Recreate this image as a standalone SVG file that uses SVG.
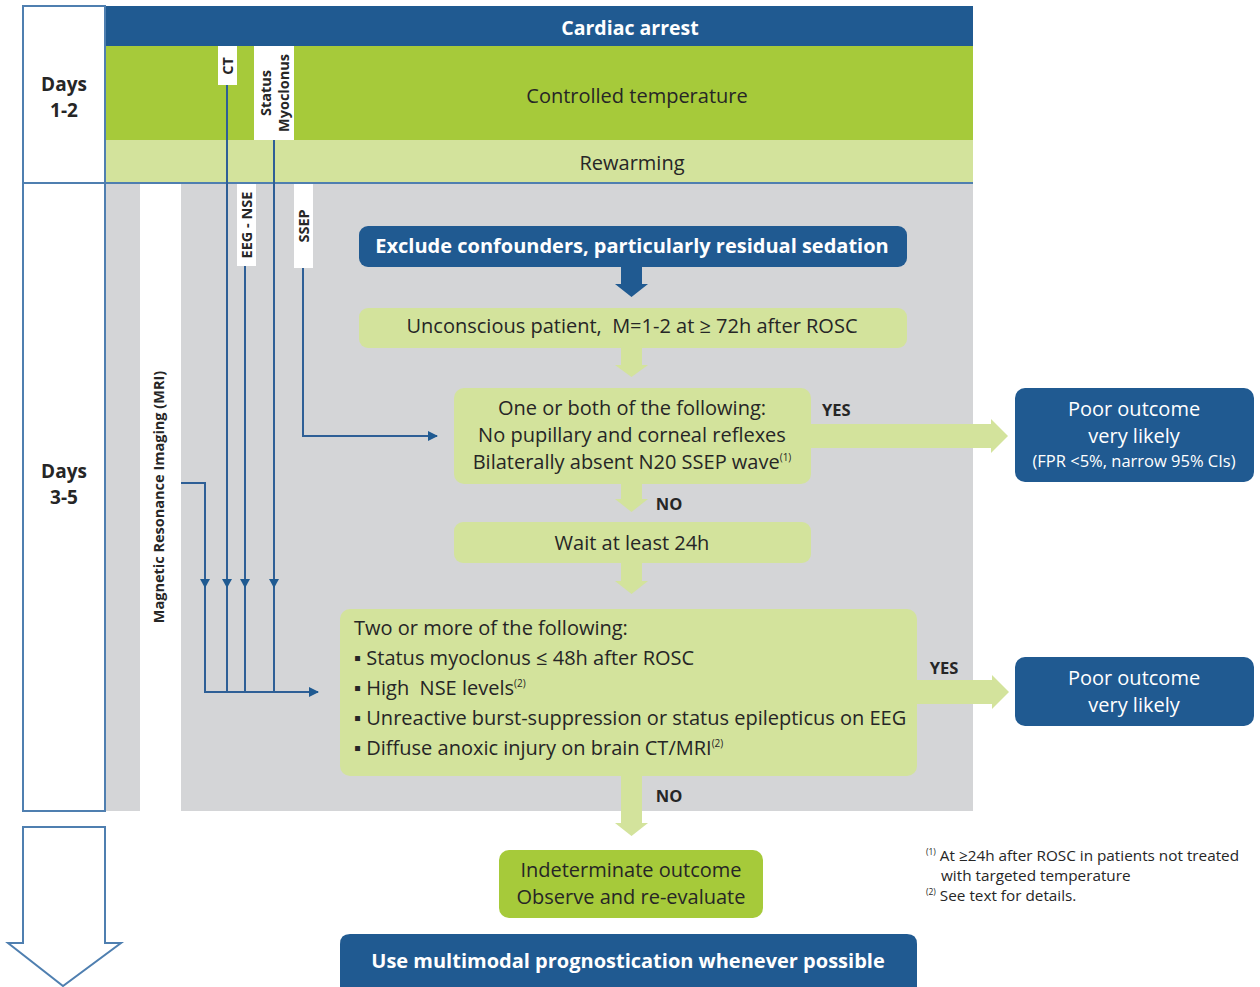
<svg xmlns="http://www.w3.org/2000/svg" width="1260" height="987" viewBox="0 0 1260 987">
<style>
.t{font-family:"Open Sans","Liberation Sans",sans-serif;fill:#262626}
.w{font-family:"Open Sans","Liberation Sans",sans-serif;fill:#ffffff}
.b{font-weight:bold}
.lbl{font-family:"Open Sans","Liberation Sans",sans-serif;font-weight:bold;font-size:14.5px;fill:#262626}
.navy{fill:#205a91}
.lg{fill:#d3e39c}
.bg{fill:#a6ca3a}
.ln{stroke:#2e5f96;stroke-width:2;fill:none}
</style>
<defs>
<marker id="ah" viewBox="0 0 10 10" refX="9" refY="5" markerWidth="10" markerHeight="10" markerUnits="userSpaceOnUse" orient="auto">
<path d="M0,0 L10,5 L0,10 z" fill="#1f5a91"/>
</marker>
</defs>
<rect width="1260" height="987" fill="#ffffff"/>

<g id="bands">
<rect x="105" y="6" width="868" height="40" class="navy"/>
<text x="630" y="35" class="w b" font-size="19.5" text-anchor="middle">Cardiac arrest</text>
<rect x="105" y="46" width="868" height="94" class="bg"/>
<text x="637" y="103" class="t" font-size="20" text-anchor="middle">Controlled temperature</text>
<rect x="105" y="140" width="868" height="43" class="lg"/>
<text x="632" y="170" class="t" font-size="20" text-anchor="middle">Rewarming</text>
<rect x="105" y="184" width="868" height="627" fill="#d4d5d7"/>
<rect x="140" y="184" width="41" height="627" fill="#ffffff"/>
</g>

<g id="days">
<rect x="23" y="6" width="82" height="805" fill="#ffffff" stroke="#4f7fb0" stroke-width="2"/>
<line x1="23" y1="183" x2="973" y2="183" stroke="#4f7fb0" stroke-width="2"/>
<text x="64" y="91" class="t b" font-size="19" text-anchor="middle">Days</text>
<text x="64" y="117" class="t b" font-size="19" text-anchor="middle">1-2</text>
<text x="64" y="478" class="t b" font-size="19" text-anchor="middle">Days</text>
<text x="64" y="504" class="t b" font-size="19" text-anchor="middle">3-5</text>
</g>

<g id="labels">
<rect x="218" y="46" width="19" height="39" fill="#ffffff"/>
<text transform="translate(233,66) rotate(-90)" class="lbl" text-anchor="middle">CT</text>
<rect x="254" y="46" width="40" height="94" fill="#ffffff"/>
<text transform="translate(271,93) rotate(-90)" class="lbl" text-anchor="middle">Status</text>
<text transform="translate(289,93) rotate(-90)" class="lbl" text-anchor="middle">Myoclonus</text>
<rect x="237" y="184" width="19" height="82" fill="#ffffff"/>
<text transform="translate(252,225) rotate(-90)" class="lbl" text-anchor="middle">EEG - NSE</text>
<rect x="294" y="184" width="19" height="84" fill="#ffffff"/>
<text transform="translate(309,226) rotate(-90)" class="lbl" text-anchor="middle">SSEP</text>
<text transform="translate(164,497) rotate(-90)" class="lbl" text-anchor="middle">Magnetic Resonance Imaging (MRI)</text>
</g>

<g id="connectors">
<path class="ln" d="M227,85 V692"/>
<path class="ln" d="M245,266 V692"/>
<path class="ln" d="M274,140 V692"/>
<path class="ln" d="M181,483 H205 V692 H318" marker-end="url(#ah)"/>
<path class="ln" d="M303,268 V436 H437" marker-end="url(#ah)"/>
<g fill="#1f5a91">
<path d="M200,579 H210 L205,588 z"/>
<path d="M222,579 H232 L227,588 z"/>
<path d="M240,579 H250 L245,588 z"/>
<path d="M269,579 H279 L274,588 z"/>
</g>
<path d="M621,267 H642 V284 H648 L631.5,297 L615,284 H621 z" class="navy"/>
<path d="M621,348 H642 V365 H648 L631.5,377 L615,365 H621 z" class="lg"/>
<path d="M621,484 H642 V499 H648 L631.5,512 L615,499 H621 z" class="lg"/>
<path d="M621,563 H642 V581 H648 L631.5,594 L615,581 H621 z" class="lg"/>
<path d="M621,776 H642 V823 H648 L631.5,836 L615,823 H621 z" class="lg"/>
<path d="M811,424 H991 V419 L1008,436 L991,453 V448 H811 z" class="lg"/>
<path d="M917,680 H992 V675 L1009,692 L992,709 V704 H917 z" class="lg"/>
<text x="822" y="416" class="t b" font-size="16.5">YES</text>
<text x="669" y="510" class="t b" font-size="16.5" text-anchor="middle">NO</text>
<text x="944" y="674" class="t b" font-size="16.5" text-anchor="middle">YES</text>
<text x="669" y="802" class="t b" font-size="16.5" text-anchor="middle">NO</text>
</g>

<g id="exclude">
<rect x="359" y="226" width="548" height="41" rx="9" class="navy"/>
<text x="632" y="253" class="w b" font-size="20" text-anchor="middle">Exclude confounders, particularly residual sedation</text>
</g>

<g id="unconscious">
<rect x="359" y="308" width="548" height="40" rx="9" class="lg"/>
<text x="632" y="333" class="t" font-size="20" text-anchor="middle">Unconscious patient,&#160; M=1-2 at ≥ 72h after ROSC</text>
</g>

<g id="oneorboth">
<rect x="454" y="388" width="357" height="96" rx="10" class="lg"/>
<text x="632" y="415" class="t" font-size="20" text-anchor="middle">One or both of the following:</text>
<text x="632" y="442" class="t" font-size="20" text-anchor="middle">No pupillary and corneal reflexes</text>
<text x="632" y="469" class="t" font-size="20" text-anchor="middle">Bilaterally absent N20 SSEP wave<tspan font-size="10" dy="-8">(1)</tspan></text>
</g>

<g id="poor1">
<rect x="1015" y="388" width="239" height="94" rx="10" class="navy"/>
<text x="1134" y="416" class="w" font-size="20" text-anchor="middle">Poor outcome</text>
<text x="1134" y="443" class="w" font-size="20" text-anchor="middle">very likely</text>
<text x="1134" y="467" class="w" font-size="16.5" text-anchor="middle">(FPR &lt;5%, narrow 95% CIs)</text>
</g>

<g id="wait">
<rect x="454" y="522" width="357" height="41" rx="9" class="lg"/>
<text x="632" y="550" class="t" font-size="20" text-anchor="middle">Wait at least 24h</text>
</g>

<g id="twoormore">
<rect x="340" y="609" width="577" height="167" rx="10" class="lg"/>
<text x="354" y="635" class="t" font-size="20">Two or more of the following:</text>
<text x="354" y="665" class="t" font-size="20">▪ Status myoclonus ≤ 48h after ROSC</text>
<text x="354" y="695" class="t" font-size="20">▪ High&#160; NSE levels<tspan font-size="10" dy="-8">(2)</tspan></text>
<text x="354" y="725" class="t" font-size="20">▪ Unreactive burst-suppression or status epilepticus on EEG</text>
<text x="354" y="755" class="t" font-size="20">▪ Diffuse anoxic injury on brain CT/MRI<tspan font-size="10" dy="-8">(2)</tspan></text>
</g>

<g id="poor2">
<rect x="1015" y="657" width="239" height="69" rx="10" class="navy"/>
<text x="1134" y="685" class="w" font-size="20" text-anchor="middle">Poor outcome</text>
<text x="1134" y="712" class="w" font-size="20" text-anchor="middle">very likely</text>
</g>

<g id="indeterminate">
<rect x="499" y="850" width="264" height="68" rx="10" class="bg"/>
<text x="631" y="877" class="t" font-size="20" text-anchor="middle">Indeterminate outcome</text>
<text x="631" y="904" class="t" font-size="20" text-anchor="middle">Observe and re-evaluate</text>
</g>

<g id="multimodal">
<path d="M350,934 H907 Q917,934 917,944 V987 H340 V944 Q340,934 350,934 z" class="navy"/>
<text x="628" y="968" class="w b" font-size="20" text-anchor="middle">Use multimodal prognostication whenever possible</text>
</g>

<g id="footnotes">
<text x="926" y="861" class="t" font-size="15.3" fill="#444"><tspan font-size="8.5" dy="-6">(1)</tspan><tspan dy="6"> At ≥24h after ROSC in patients not treated</tspan></text>
<text x="941" y="881" class="t" font-size="15.3">with targeted temperature</text>
<text x="926" y="901" class="t" font-size="15.3"><tspan font-size="8.5" dy="-6">(2)</tspan><tspan dy="6"> See text for details.</tspan></text>
</g>

<g id="timeline-arrow">
<path d="M23,827 H105 V943 H121 L63,986 L8,943 H23 z" fill="#ffffff" stroke="#4f7fb0" stroke-width="2" stroke-linejoin="miter"/>
</g>
</svg>
